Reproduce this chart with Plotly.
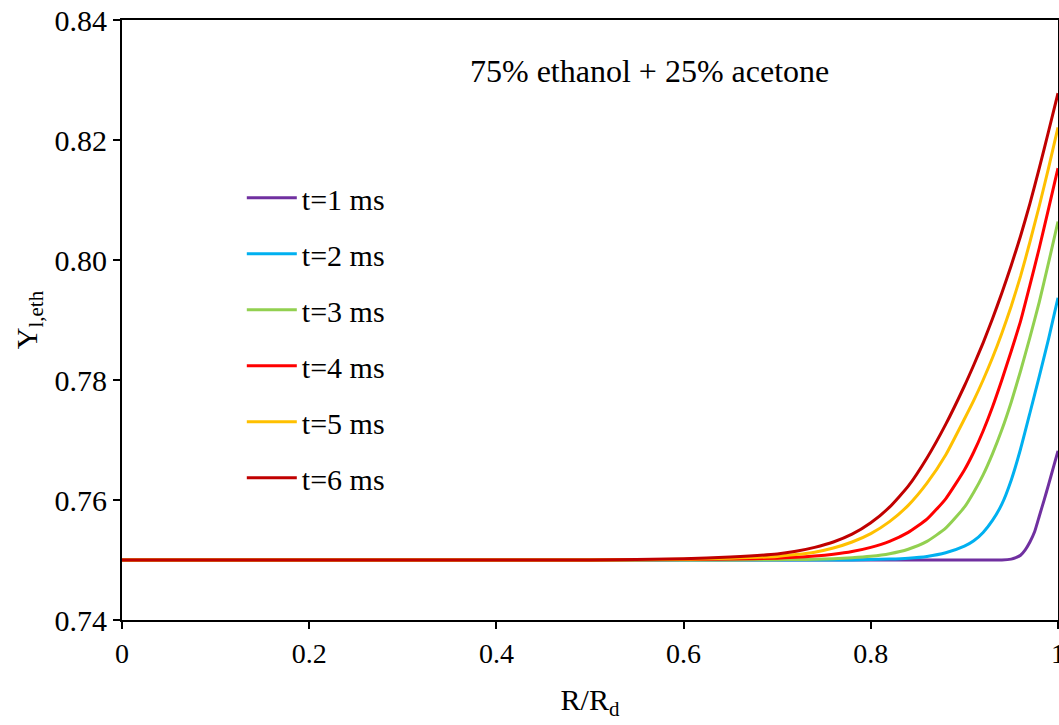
import plotly.graph_objects as go

# Radial grid (R/Rd) used for t = 2..6 ms
x_grid = [0, 0.1, 0.2, 0.3, 0.4, 0.5, 0.6, 0.65, 0.7, 0.72, 0.74, 0.76, 0.78, 0.80,
          0.82, 0.84, 0.86, 0.88, 0.90, 0.91, 0.92, 0.93, 0.94, 0.95, 0.96, 0.97,
          0.98, 0.99, 1.0]

y_t2 = [0.75, 0.75, 0.75, 0.75, 0.75, 0.75, 0.75, 0.75, 0.75, 0.75, 0.75, 0.75, 0.75001, 0.75007,
        0.75015, 0.7503, 0.7506, 0.7512, 0.7523, 0.7532, 0.7546, 0.7566, 0.7593, 0.7633, 0.7685, 0.7745,
        0.7806, 0.7869, 0.7937]
y_t3 = [0.75, 0.75, 0.75, 0.75, 0.75, 0.75, 0.75, 0.75002, 0.75005, 0.75008, 0.75013, 0.75022, 0.75037, 0.75062,
        0.75105, 0.7518, 0.7531, 0.7553, 0.7588, 0.7613, 0.7642, 0.7677, 0.7717, 0.7763, 0.7815, 0.7871,
        0.7930, 0.7996, 0.8064]
y_t4 = [0.75, 0.75, 0.75, 0.75, 0.75, 0.75, 0.75008, 0.75017, 0.7503, 0.75045, 0.75065, 0.75095, 0.7514, 0.7521,
        0.7531, 0.7546, 0.7568, 0.7602, 0.7650, 0.7680, 0.7715, 0.7755, 0.7800, 0.7848, 0.7898, 0.7958,
        0.8020, 0.8086, 0.8153]
y_t5 = [0.75, 0.75, 0.75, 0.75, 0.75, 0.75, 0.75012, 0.7503, 0.7506, 0.7509, 0.7513, 0.7520, 0.7530, 0.7544,
        0.7564, 0.7591, 0.7628, 0.7675, 0.7735, 0.7766, 0.7800, 0.7837, 0.7878, 0.7923, 0.7973, 0.8030,
        0.8090, 0.8154, 0.8221]
y_t6 = [0.75, 0.75, 0.75, 0.75, 0.75, 0.75, 0.7502, 0.7505, 0.7510, 0.75145, 0.7521, 0.7530, 0.7543, 0.7562,
        0.7588, 0.7623, 0.7670, 0.7726, 0.7790, 0.7825, 0.7862, 0.7902, 0.7945, 0.7991, 0.8040, 0.8094,
        0.8153, 0.8215, 0.8278]

# t = 1 ms rises only very close to the surface
x_t1 = [0, 0.2, 0.4, 0.6, 0.8, 0.9, 0.94, 0.95, 0.955, 0.96, 0.965, 0.97, 0.975, 0.98,
        0.985, 0.99, 0.995, 1.0]
y_t1 = [0.75, 0.75, 0.75, 0.75, 0.75, 0.75, 0.75, 0.75015, 0.7504, 0.7508, 0.7517, 0.7530, 0.7547, 0.7573,
        0.7599, 0.7626, 0.7654, 0.7682]

series_names = ["t=1 ms", "t=2 ms", "t=3 ms", "t=4 ms", "t=5 ms", "t=6 ms"]
series_x = [x_t1, x_grid, x_grid, x_grid, x_grid, x_grid]
series_y = [y_t1, y_t2, y_t3, y_t4, y_t5, y_t6]
colors = ["#7030A0", "#00B0F0", "#92D050", "#FF0000", "#FFC000", "#C00000"]

x_ticks = [0, 0.2, 0.4, 0.6, 0.8, 1]
x_ticklabels = ["0", "0.2", "0.4", "0.6", "0.8", "1"]
y_ticks = [0.74, 0.76, 0.78, 0.80, 0.82, 0.84]
y_ticklabels = ["0.74", "0.76", "0.78", "0.80", "0.82", "0.84"]

FONT = "Liberation Serif"

fig = go.Figure()
for i, (name, xs, ys, c) in enumerate(zip(series_names, series_x, series_y, colors)):
    fig.add_trace(go.Scatter(
        x=xs, y=ys, mode="lines", name=name,
        line=dict(color=c, width=3, shape="spline", smoothing=0.5),
        legendgroup=f"g{i}",
    ))

fig.update_layout(
    width=1059, height=725,
    margin=dict(l=122, r=1, t=20, b=105, autoexpand=False),
    paper_bgcolor="white", plot_bgcolor="white",
    font=dict(family=FONT, size=30, color="black"),
    showlegend=True,
    legend=dict(
        x=0.128, y=0.747, xanchor="left", yanchor="top",
        bgcolor="rgba(0,0,0,0)", borderwidth=0,
        font=dict(family=FONT, size=30, color="black"),
        tracegroupgap=14, itemwidth=50,
    ),
    annotations=[dict(
        text="75% ethanol + 25% acetone", x=0.564, y=0.915,
        xref="paper", yref="paper", showarrow=False,
        xanchor="center", yanchor="middle",
        font=dict(family=FONT, size=32, color="black"),
    )],
)

fig.update_xaxes(
    range=[0, 1], tickvals=x_ticks, ticktext=x_ticklabels,
    showline=True, linecolor="black", linewidth=2, mirror=True,
    ticks="outside", ticklen=7, tickwidth=1.5, tickcolor="black",
    showgrid=False, zeroline=False, ticklabeloverflow="allow", automargin=False,
    title=dict(text="R/R<sub>d</sub>", font=dict(family=FONT, size=30), standoff=21),
    tickfont=dict(family=FONT, size=28),
)
fig.update_yaxes(
    range=[0.74, 0.84], tickvals=y_ticks, ticktext=y_ticklabels,
    showline=True, linecolor="black", linewidth=2, mirror=True,
    ticks="outside", ticklen=7, tickwidth=1.5, tickcolor="black",
    showgrid=False, zeroline=False, automargin=False,
    title=dict(text="Y<sub>l,eth</sub>", font=dict(family=FONT, size=30), standoff=8),
    tickfont=dict(family=FONT, size=30),
)

fig.write_html("out.html")
